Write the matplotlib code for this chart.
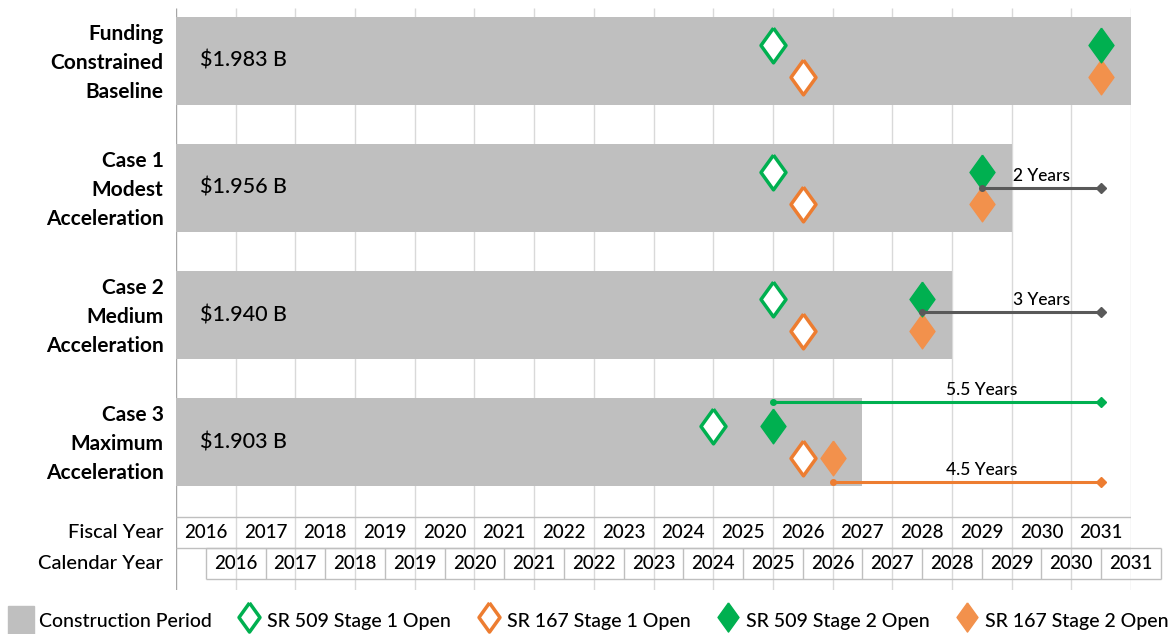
import numpy as np
import matplotlib.pyplot as plt
from matplotlib.patches import Patch
from matplotlib.lines import Line2D

plt.rcParams['font.family'] = ['Lato', 'DejaVu Sans']

# Dados do cronograma ------------------------------------------
cases = ["Funding\nConstrained\nBaseline", "Case 1\nModest\nAcceleration",
         "Case 2\nMedium\nAcceleration", "Case 3\nMaximum\nAcceleration"]
costs = ["$1.983 B", "$1.956 B", "$1.940 B", "$1.903 B"]
build_start = [2015.5, 2015.5, 2015.5, 2015.5]
build_end = [2031.5, 2029.5, 2028.5, 2027.0]
sr509_s1 = [2025.5, 2025.5, 2025.5, 2024.5]
sr167_s1 = [2026.0, 2026.0, 2026.0, 2026.0]
sr509_s2 = [2031.0, 2029.0, 2028.0, 2025.5]
sr167_s2 = [2031.0, 2029.0, 2028.0, 2026.5]
fiscal_years = list(range(2016, 2032))
calendar_years = list(range(2016, 2032))

gray = '#BFBFBF'
green = '#00B050'
orange = '#ED7D31'
orange_fill = '#F2914C'
dark = '#595959'

# marcador losango alongado
diamond = [(0, 1), (0.72, 0), (0, -1), (-0.72, 0), (0, 1)]

fig = plt.figure(figsize=(11.75, 6.34), dpi=100)
ax = fig.add_axes([176/1175, 1-590/634, 955/1175, 582/634])
ytop, ybot = -0.417, 4.165
ax.set_xlim(2015.5, 2031.5)
ax.set_ylim(ybot, ytop)
ax.axis('off')

# Grade vertical
ax.vlines(np.arange(2016.5, 2032.0, 1), ytop, ybot, color='#D9D9D9', lw=1, zorder=1)
ax.vlines(2015.5, ytop, ybot, color='#A6A6A6', lw=1, zorder=1)

rows = np.arange(len(cases))
ax.barh(rows, np.array(build_end) - np.array(build_start), left=build_start,
        height=0.70, color=gray, zorder=2)

for r in rows:
    ax.annotate(cases[r], xy=(2015.5, r), xytext=(-9, -1.5), textcoords='offset points',
                ha='right', va='center', fontsize=15, fontweight='bold', linespacing=1.57)
    ax.annotate(costs[r], xy=(2015.5, r), xytext=(17, 0), textcoords='offset points',
                ha='left', va='center', fontsize=15.5, fontweight='medium')

dy = 0.125
ms = 25
ax.plot(sr509_s1, rows - dy, ls='none', marker=diamond, ms=ms, mfc='white', mec=green, mew=2.5, zorder=4)
ax.plot(sr167_s1, rows + dy, ls='none', marker=diamond, ms=ms, mfc='white', mec=orange, mew=2.5, zorder=4)
ax.plot(sr509_s2, rows - dy, ls='none', marker=diamond, ms=ms, mfc=green, mec=green, mew=1, zorder=5)
ax.plot(sr167_s2, rows + dy, ls='none', marker=diamond, ms=ms, mfc=orange_fill, mec=orange_fill, mew=1, zorder=4)

# Setas de aceleração ------------------------------------------
def arrow(x0, x1, y, color, text, tx):
    ax.plot([x0, x1], [y, y], color=color, lw=2.2, zorder=6, solid_capstyle='butt')
    ax.plot([x0], [y], 'o', color=color, ms=4, zorder=6)
    ax.plot([x1], [y], 'D', color=color, ms=5, zorder=6)
    ax.annotate(text, xy=(tx, y), xytext=(0, 3), textcoords='offset points',
                ha='center', va='bottom', fontsize=12.5, fontweight='medium')

base = sr509_s2[0]
arrow(sr509_s2[1], base, 1.0, dark, "{:g} Years".format(base - sr509_s2[1]), 2030.0)
arrow(sr509_s2[2], base, 1.98, dark, "{:g} Years".format(base - sr509_s2[2]), 2030.0)
arrow(sr509_s2[3], base, 3 - 0.315, green, "{:g} Years".format(base - sr509_s2[3]), 2029.0)
arrow(sr167_s2[3], base, 3 + 0.315, orange, "{:g} Years".format(sr167_s2[0] - sr167_s2[3]), 2029.0)

# Tabela de anos -----------------------------------------------
fy0, fy1 = 3.591, 3.835
cy0, cy1 = 3.835, 4.079
ax.hlines([fy0, fy1], 2015.5, 2031.5, color='#BFBFBF', lw=1, zorder=2)
ax.hlines([cy0, cy1], 2016.0, 2032.0, color='#BFBFBF', lw=1, zorder=2, clip_on=False)
ax.vlines(np.arange(2016, 2033), cy0, cy1, color='#BFBFBF', lw=1, zorder=2, clip_on=False)
for fy in fiscal_years:
    ax.text(fy, (fy0 + fy1) / 2, str(fy), ha='center', va='center', fontsize=13.5, fontweight='medium')
for cy in calendar_years:
    ax.text(cy + 0.5, (cy0 + cy1) / 2, str(cy), ha='center', va='center', fontsize=13.5,
            fontweight='medium', clip_on=False)
ax.annotate("Fiscal Year", xy=(2015.5, (fy0 + fy1) / 2), xytext=(-9, 0), textcoords='offset points',
            ha='right', va='center', fontsize=14.5, fontweight='medium')
ax.annotate("Calendar Year", xy=(2015.5, (cy0 + cy1) / 2), xytext=(-9, 0), textcoords='offset points',
            ha='right', va='center', fontsize=14.5, fontweight='medium')

# Legenda ------------------------------------------------------
handles = [Patch(color=gray),
           Line2D([], [], ls='none', marker=diamond, ms=21, mfc='white', mec=green, mew=2.5),
           Line2D([], [], ls='none', marker=diamond, ms=21, mfc='white', mec=orange, mew=2.5),
           Line2D([], [], ls='none', marker=diamond, ms=21, mfc=green, mec=green),
           Line2D([], [], ls='none', marker=diamond, ms=21, mfc=orange_fill, mec=orange_fill)]
labels = ["Construction Period", "SR 509 Stage 1 Open", "SR 167 Stage 1 Open",
          "SR 509 Stage 2 Open", "SR 167 Stage 2 Open"]
fig.legend(handles, labels, loc='center left', bbox_to_anchor=(8/1175, 1 - 621/634), ncol=5,
           frameon=False, prop={'size': 14, 'weight': 'medium'}, handlelength=1.35,
           handleheight=1.95, columnspacing=1.25, handletextpad=0.25, borderaxespad=0,
           borderpad=0)

fig.savefig("out.png", dpi=100)
